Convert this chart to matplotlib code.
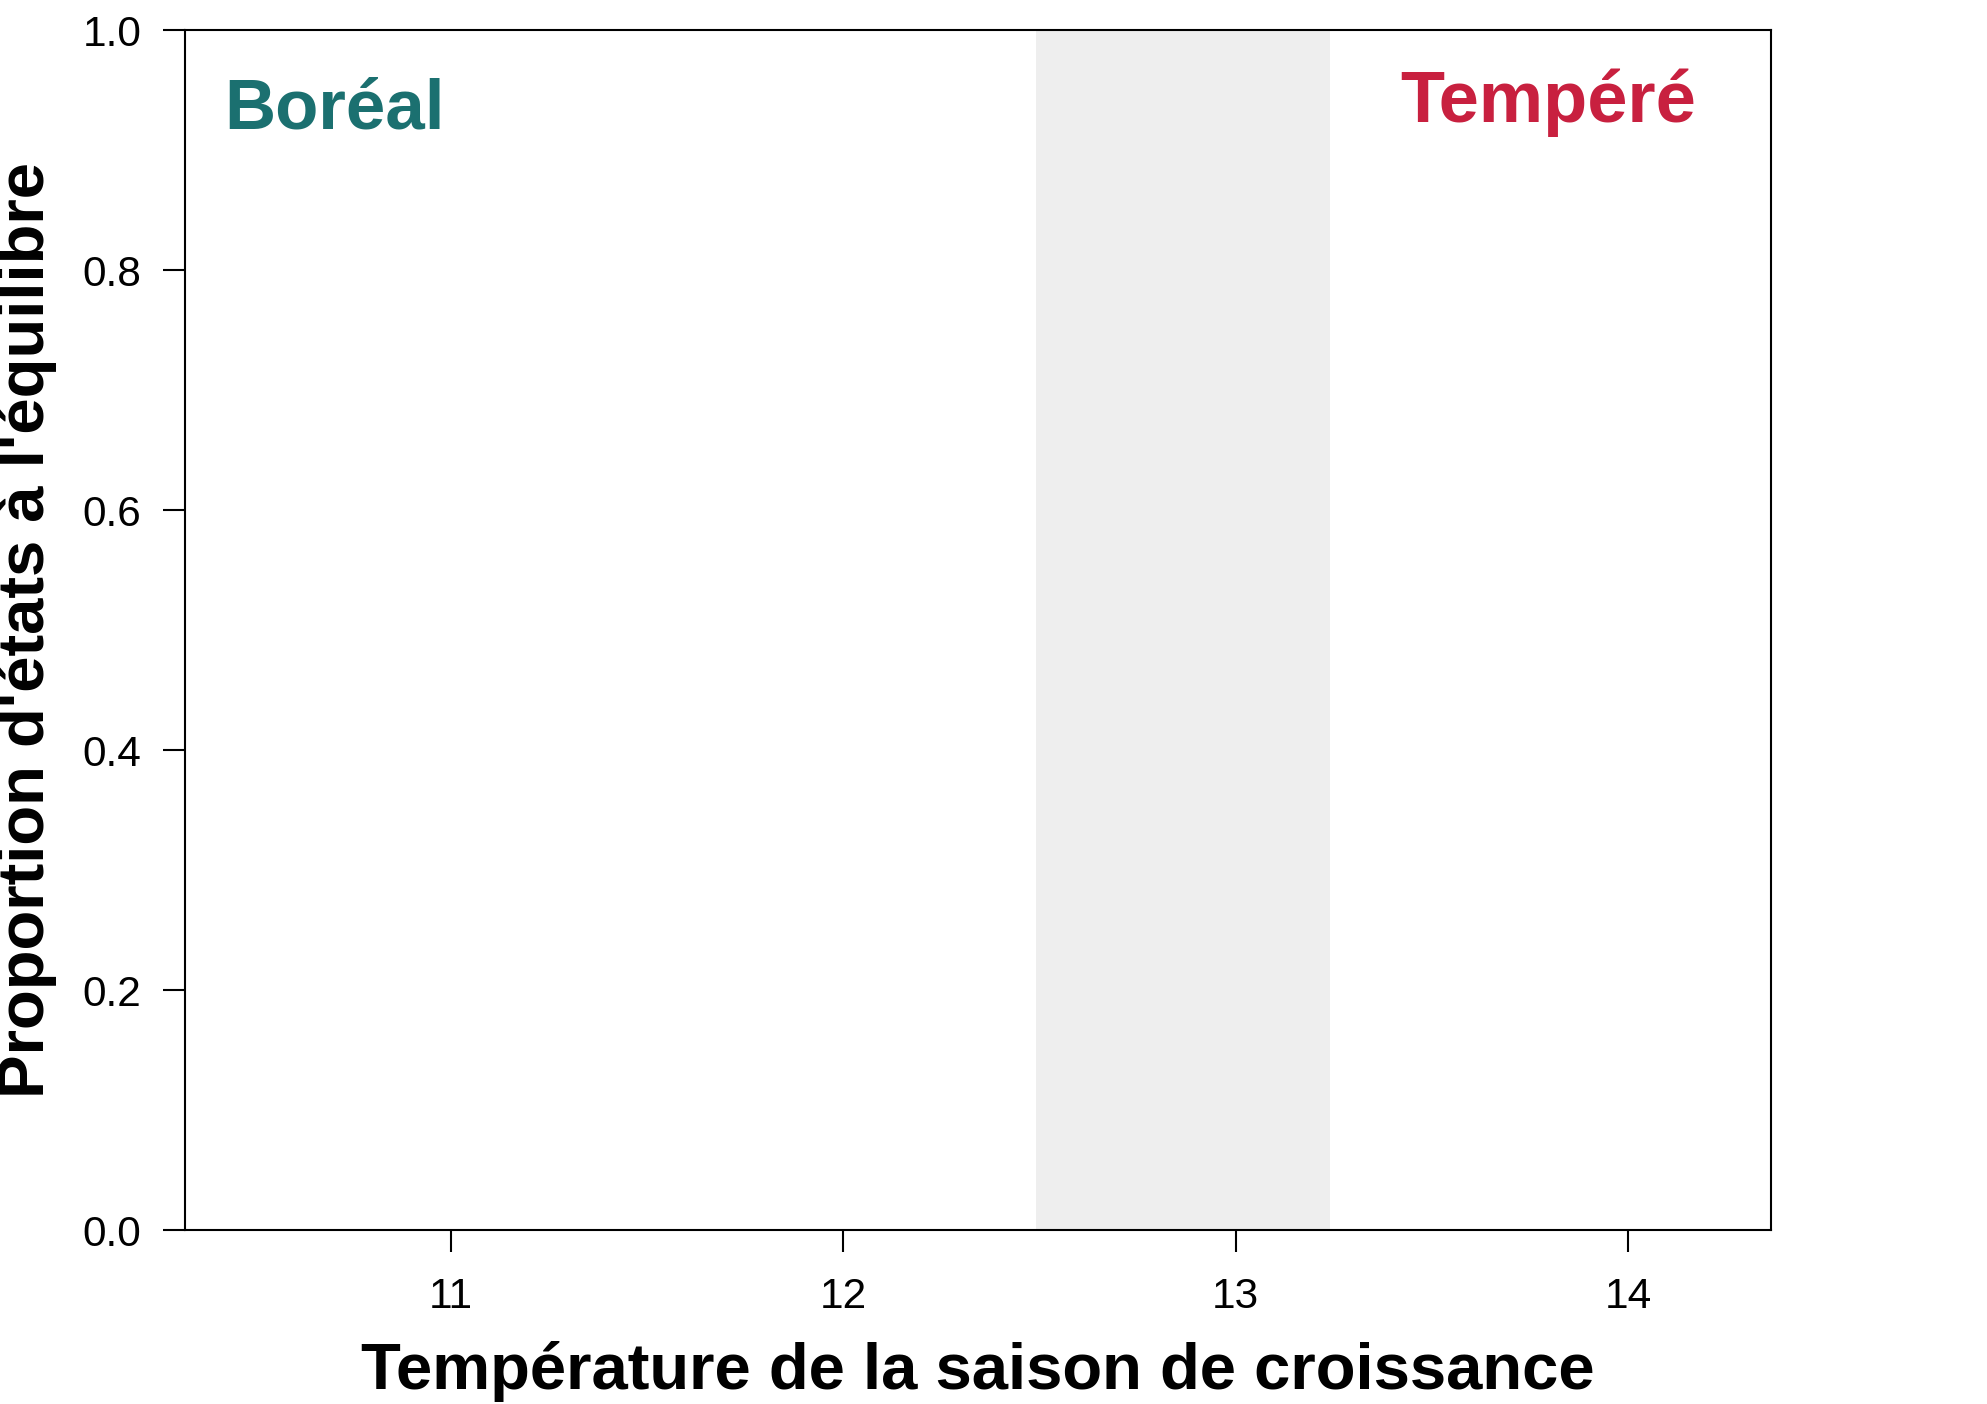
import matplotlib
matplotlib.use("Agg")
import matplotlib.pyplot as plt

# data
x_lim = [10.322, 14.364]
y_lim = [0.0, 1.0]
x_ticks = [11, 12, 13, 14]
y_ticks = [0.0, 0.2, 0.4, 0.6, 0.8, 1.0]
y_tick_labels = ["0.0", "0.2", "0.4", "0.6", "0.8", "1.0"]
band = [12.49, 13.24]
regions = ["Boréal", "Tempéré"]
region_colors = ["#1b7070", "#c8203f"]

plt.rcParams['font.family'] = ['Liberation Sans', 'DejaVu Sans']

fig = plt.figure(figsize=(19.87, 14.04), dpi=100)
ax = fig.add_axes([185 / 1987, 1 - 1230 / 1404, (1771 - 185) / 1987, 1200 / 1404])

# transition zone
ax.axvspan(band[0], band[1], color="#eeeeee", lw=0, zorder=0)

ax.set_xlim(x_lim)
ax.set_ylim(y_lim)
ax.set_xticks(x_ticks)
ax.set_xticklabels([str(t) for t in x_ticks])
ax.set_yticks(y_ticks)
ax.set_yticklabels(y_tick_labels)
ax.tick_params(axis='both', direction='out', length=15.5, width=1.5, labelsize=30.5)
ax.tick_params(axis='x', pad=18)
ax.tick_params(axis='y', pad=16)
for s in ax.spines.values():
    s.set_linewidth(1.5)

ax.text(0.0245, 0.918, regions[0], transform=ax.transAxes, color=region_colors[0],
        fontsize=51, fontweight='bold', ha='left', va='baseline')
ax.text(0.766, 0.923, regions[1], transform=ax.transAxes, color=region_colors[1],
        fontsize=52, fontweight='bold', ha='left', va='baseline')

fig.text(0.4922, 15 / 1404, "Température de la saison de croissance", fontsize=47,
         fontweight='bold', ha='center', va='baseline')
fig.text(27 / 1987, 1 - 630 / 1404, "Proportion d'états à l'équilibre", fontsize=47,
         fontweight='bold', ha='center', va='center', rotation=90)

fig.savefig("out.png", dpi=100)
